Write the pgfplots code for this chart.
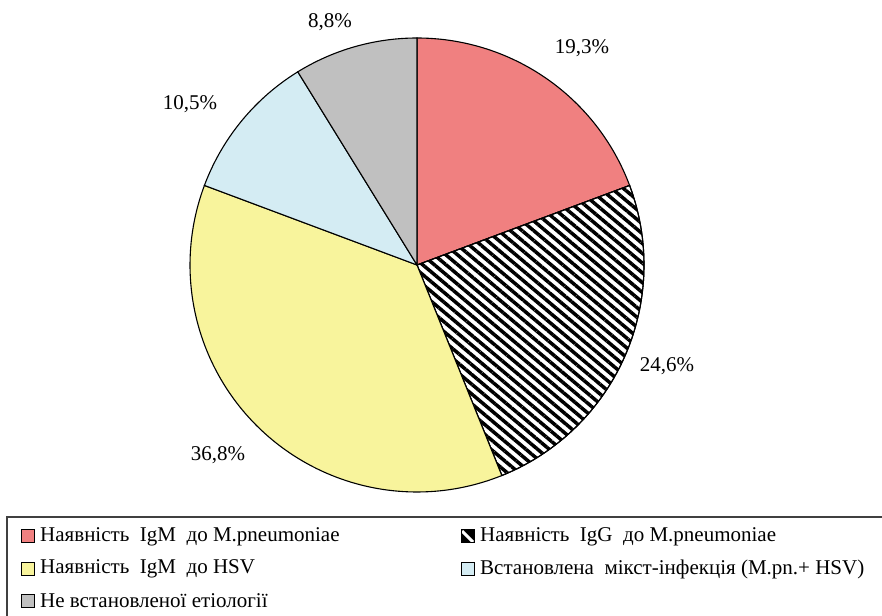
\documentclass[border=0pt]{standalone}
\usepackage{pgfplots}
\pgfplotsset{compat=1.18}
\usepackage{pgfplotstable}
\usetikzlibrary{patterns.meta}
\usepackage{fontspec}
\setmainfont{Liberation Serif}
\definecolor{cRed}{HTML}{F08080}
\definecolor{cYel}{HTML}{F8F49C}
\definecolor{cBlue}{HTML}{D4ECF3}
\definecolor{cGray}{HTML}{C0C0C0}
\pgfplotstableread{
slice value
a 19.3
b 24.6
c 36.8
d 10.5
e 8.8
}\piedata
\begin{document}
\begin{tikzpicture}[x=1pt,y=1pt]
\pgfplotstablegetelem{0}{value}\of\piedata \edef\vA{\pgfplotsretval}
\pgfplotstablegetelem{1}{value}\of\piedata \edef\vB{\pgfplotsretval}
\pgfplotstablegetelem{2}{value}\of\piedata \edef\vC{\pgfplotsretval}
\pgfplotstablegetelem{3}{value}\of\piedata \edef\vD{\pgfplotsretval}
\pgfplotstablegetelem{4}{value}\of\piedata \edef\vE{\pgfplotsretval}
\pgfmathsetmacro\aO{90}
\pgfmathsetmacro\aA{\aO-3.6*\vA}
\pgfmathsetmacro\aB{\aA-3.6*\vB}
\pgfmathsetmacro\aC{\aB-3.6*\vC}
\pgfmathsetmacro\aD{\aC-3.6*\vD}
\pgfmathsetmacro\aE{\aD-3.6*\vE}
\path[use as bounding box] (0,0) rectangle (882,615);
\begin{axis}[
  at={(0,0)}, anchor=south west,
  scale only axis, width=882pt, height=615pt,
  xmin=0, xmax=882, ymin=0, ymax=615,
  hide axis, clip=false,
  every axis plot/.append style={line width=1.1pt, draw=black},
]
\addplot[fill=cRed, domain=\aA:\aO, samples=80, variable=\t]
  ({417+227*cos(\t)},{350+227*sin(\t)}) -- (axis cs:417,350) -- cycle;
\addplot[fill=white, domain=\aB:\aA, samples=80, variable=\t]
  ({417+227*cos(\t)},{350+227*sin(\t)}) -- (axis cs:417,350) -- cycle;
\addplot[draw=black, pattern={Lines[angle=-40,distance=7.5pt,line width=3.5pt]}, pattern color=black, domain=\aB:\aA, samples=80, variable=\t]
  ({417+227*cos(\t)},{350+227*sin(\t)}) -- (axis cs:417,350) -- cycle;
\addplot[fill=cYel, domain=\aC:\aB, samples=100, variable=\t]
  ({417+227*cos(\t)},{350+227*sin(\t)}) -- (axis cs:417,350) -- cycle;
\addplot[fill=cBlue, domain=\aD:\aC, samples=50, variable=\t]
  ({417+227*cos(\t)},{350+227*sin(\t)}) -- (axis cs:417,350) -- cycle;
\addplot[fill=cGray, domain=\aE:\aD, samples=50, variable=\t]
  ({417+227*cos(\t)},{350+227*sin(\t)}) -- (axis cs:417,350) -- cycle;
\end{axis}
\begin{scope}[font=\fontsize{21}{24}\selectfont]
\node at (582,567) {19,3\%};
\node at (667,249) {24,6\%};
\node at (218,160) {36,8\%};
\node at (190,511) {10,5\%};
\node at (330,593) {8,8\%};
% legend
\draw[black!75, line width=1.3pt] (7,-5) -- (7,98) -- (890,98);
\draw[line width=1pt, fill=cRed] (21,72) rectangle (34,85);
\node[anchor=west, inner sep=0pt] at (40,78) {Наявність~ IgM~ до M.pneumoniae};
\draw[line width=1pt, fill=cYel] (21,40) rectangle (34,53);
\node[anchor=west, inner sep=0pt] at (40,46) {Наявність~ IgM~ до HSV};
\draw[line width=1pt, fill=cGray] (21,8) rectangle (34,21);
\node[anchor=west, inner sep=0pt] at (40,14) {Не встановленої етіології};
\begin{scope}
\clip (461,72) rectangle (474,85);
\fill[black] (461,72) rectangle (474,85);
\draw[white, line width=3pt] (462,84) -- (473,73);
\end{scope}
\draw[line width=1pt] (461,72) rectangle (474,85);
\node[anchor=west, inner sep=0pt] at (480,78) {Наявність~ IgG~ до M.pneumoniae};
\draw[line width=1pt, fill=cBlue] (461,40) rectangle (474,53);
\node[anchor=west, inner sep=0pt] at (480,46) {Встановлена~ мікст-інфекція (M.pn.+ HSV)};
\end{scope}
\end{tikzpicture}
\end{document}
